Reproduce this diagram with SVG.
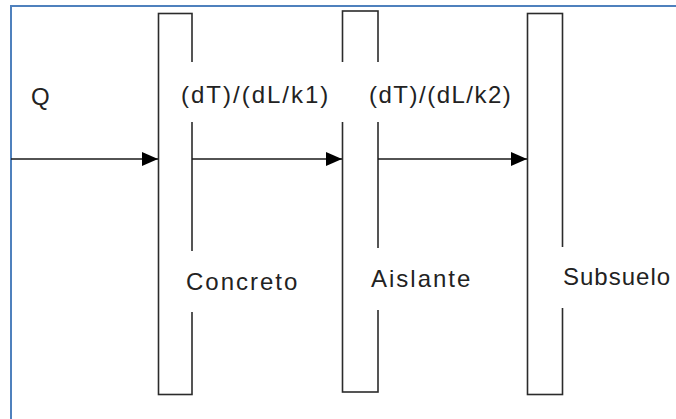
<svg xmlns="http://www.w3.org/2000/svg" width="676" height="419" viewBox="0 0 676 419">
  <defs>
    <style>
      .frame { fill: none; stroke: #4f81bd; stroke-width: 2; }
      .bar { fill: #ffffff; stroke: #2b2b2b; stroke-width: 1.6; }
      .conn { fill: none; stroke: #1a1a1a; stroke-width: 1.6; }
      .mask { fill: #ffffff; stroke: none; }
      .lbl { font-family: "Liberation Sans", Arial, sans-serif; font-size: 24px; fill: #222222; letter-spacing: 2px; }
    </style>
    <marker id="arrow" markerUnits="userSpaceOnUse" markerWidth="16" markerHeight="14" refX="16" refY="7" orient="auto">
      <path d="M0,0 L16,7 L0,14 Z" fill="#000000"/>
    </marker>
  </defs>
  <rect width="676" height="419" fill="#ffffff"/>
  <rect class="frame" x="11" y="6" width="700" height="440"/>

  <g id="bar-concreto">
    <rect class="bar" x="158.5" y="13.5" width="33.5" height="381"/>
  </g>
  <g id="bar-aislante">
    <rect class="bar" x="342.5" y="11" width="35.5" height="381"/>
  </g>
  <g id="bar-subsuelo">
    <rect class="bar" x="527.5" y="13.5" width="35" height="381"/>
  </g>

  <g id="connectors">
    <line class="conn" x1="11" y1="159" x2="158" y2="159" marker-end="url(#arrow)"/>
    <line class="conn" x1="192" y1="159" x2="342" y2="159" marker-end="url(#arrow)"/>
    <line class="conn" x1="378" y1="159" x2="527" y2="159" marker-end="url(#arrow)"/>
  </g>

  <g id="label-q">
    <text class="lbl" x="31" y="105">Q</text>
  </g>
  <g id="label-k1">
    <rect class="mask" x="166" y="62" width="180" height="60"/>
    <text class="lbl" x="181" y="103">(dT)/(dL/k1)</text>
  </g>
  <g id="label-k2">
    <rect class="mask" x="360" y="62" width="162" height="60"/>
    <text class="lbl" x="369" y="103" style="letter-spacing:1.5px">(dT)/(dL/k2)</text>
  </g>
  <g id="label-concreto">
    <rect class="mask" x="172" y="251" width="162" height="61"/>
    <text class="lbl" x="186" y="290">Concreto</text>
  </g>
  <g id="label-aislante">
    <rect class="mask" x="360" y="248" width="150" height="62"/>
    <text class="lbl" x="371" y="287">Aislante</text>
  </g>
  <g id="label-subsuelo">
    <rect class="mask" x="548" y="247" width="128" height="61"/>
    <text class="lbl" x="563" y="285" style="letter-spacing:1px">Subsuelo</text>
  </g>
</svg>
